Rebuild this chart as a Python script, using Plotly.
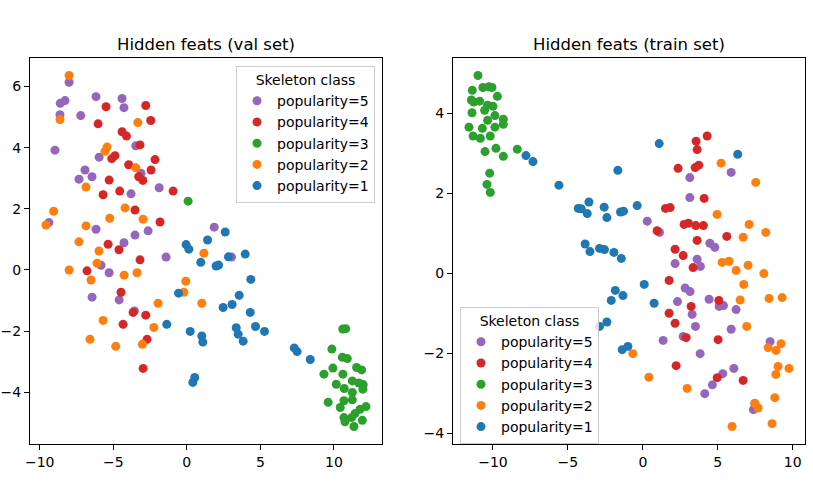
import plotly.graph_objects as go

# class order as in the legend (first drawn at the bottom)
classes = ["popularity=5", "popularity=4", "popularity=3", "popularity=2", "popularity=1"]
colors = ["#9467bd", "#d62728", "#2ca02c", "#ff7f0e", "#1f77b4"]

# ---- val set ----
val_p5_x = [-8.0, -8.6, -8.28, -6.17, -4.40, -4.27, -8.62, -7.21, -8.96, -3.47, -5.96, -3.11, -6.92, -7.33, -6.44,
            -3.79, -1.88, -9.37, -6.17, -3.52, -2.63, -4.27, -5.83, -1.41, 1.86, -5.28, -6.44, -4.60, -3.56, 3.04]
val_p5_y = [6.14, 5.45, 5.54, 5.67, 5.61, 5.31, 5.08, 5.05, 3.92, 4.06, 3.69, 3.16, 3.27, 2.97, 3.05,
            2.49, 2.69, 1.55, 1.33, 1.14, 1.28, 0.89, 0.15, 0.42, 1.40, -0.09, -0.89, -0.98, -1.34, 0.42]

val_p4_x = [-5.49, -2.79, -6.03, -2.45, -4.40, -4.10, -3.18, -4.88, -5.10, -2.16, -3.95, -2.43, -3.27, -2.99, -5.28,
            -5.69, -4.56, -0.93, -3.52, -1.82, -5.35, -4.61, -3.18, -6.78, -4.47, -3.65, -2.79, -4.33, -2.70, -2.97]
val_p4_y = [5.34, 5.38, 4.78, 4.89, 4.52, 4.38, 4.09, 3.74, 3.64, 3.61, 3.44, 3.27, 3.05, 2.93, 2.94,
            2.46, 2.58, 2.58, 1.96, 1.57, 0.84, 0.66, 0.33, -0.03, -0.73, -1.39, -1.48, -1.78, -2.27, -3.22]

val_p3_x = [0.09, 10.6, 10.8, 9.86, 10.57, 10.91, 11.54, 11.88, 9.32, 9.93, 10.61, 11.25, 11.70, 11.99, 11.97,
            10.16, 10.70, 11.25, 11.25, 10.68, 9.61, 10.43, 11.77, 12.18, 11.43, 11.20, 10.68, 10.75, 11.36, 11.93]
val_p3_y = [2.25, -1.93, -1.92, -2.59, -2.86, -2.90, -3.19, -3.27, -3.41, -3.21, -3.41, -3.63, -3.70, -3.75, -3.90,
            -3.74, -3.88, -4.01, -4.25, -4.28, -4.33, -4.50, -4.56, -4.47, -4.70, -4.83, -4.83, -4.97, -5.12, -4.92]

val_p2_x = [-8.0, -8.62, -3.33, -5.42, -5.56, -3.47, -6.85, -9.05, -9.57, -4.20, -5.24, -2.97, -6.85, -7.33, -5.97,
            -6.10, 1.16, -8.0, -3.38, -6.51, -4.26, -1.95, -5.69, -2.24, -6.58, -4.83, -3.02, -0.07, -0.20, 1.02]
val_p2_y = [6.36, 4.92, 4.82, 4.02, 3.88, 3.34, 2.71, 1.92, 1.47, 2.03, 1.69, 1.66, 1.44, 0.92, 0.62,
            0.22, 0.55, 0.0, -0.09, -0.33, -0.17, -1.09, -1.65, -1.88, -2.27, -2.50, -2.43, -0.37, -0.73, -1.09]

val_p1_x = [2.61, 1.41, -0.05, 0.14, 0.95, 1.99, 2.16, 2.83, 3.97, 4.35, -0.56, 0.23, 1.02, 1.09, 0.54,
            0.41, 2.47, -1.36, 3.56, 3.08, 4.31, 4.67, 5.28, 3.36, 3.49, 3.83, 7.30, 7.50, 8.39]
val_p1_y = [1.24, 0.98, 0.83, 0.68, 0.25, 0.13, 0.16, 0.43, 0.52, -0.31, -0.76, -2.01, -2.16, -2.36, -3.52,
            -3.68, -1.23, -1.78, -0.83, -1.13, -1.39, -1.85, -2.01, -1.89, -2.10, -2.33, -2.55, -2.67, -2.93]

# ---- train set ----
tr_p5_x = [3.13, 5.89, 3.13, 0.29, 1.11, 4.47, 4.8, 3.62, 2.15, 3.84, 2.82, 3.15, 2.31, 3.29, 4.42,
           5.09, 5.38, 6.22, 3.51, 5.89, 2.69, 1.35, 3.82, 5.33, 6.07, 4.64, 4.13, 8.49, 7.47, 7.38]
tr_p5_y = [2.39, 2.52, 1.89, 1.30, 1.02, 0.75, 0.65, 0.35, 0.24, 0.17, -0.37, -0.46, -0.71, -1.03, -0.65,
           -0.83, -0.81, -0.91, -1.33, -1.40, -1.58, -1.68, -2.01, -2.51, -2.38, -2.79, -3.01, -1.71, -3.26, -3.41]

tr_p4_x = [4.29, 3.55, 3.62, 2.35, 3.49, 3.73, 4.09, 1.51, 1.82, 0.95, 2.75, 3.04, 3.53, 4.04, 5.6,
           3.62, 2.15, 2.69, 3.35, 1.75, 3.22, 1.75, 2.15, 5.07, 2.89, 5.02, 2.22, 4.96, 6.69]
tr_p4_y = [3.43, 3.30, 3.09, 2.62, 2.64, 2.70, 1.87, 1.62, 1.64, 1.06, 1.22, 1.25, 1.19, 1.19, 0.92,
           0.82, 0.60, 0.44, 0.14, -0.18, -0.83, -1.0, -1.25, -0.68, -1.61, -1.66, -2.31, -2.61, -2.68]

tr_p3_x = [-11.0, -11.38, -10.67, -10.27, -10.07, -9.71, -11.44, -11.29, -10.89, -11.40, -10.56, -10.36, -10.0, -9.87, -10.36,
           -9.31, -9.31, -9.87, -10.71, -11.6, -11.33, -10.84, -10.18, -10.53, -9.8, -9.31, -8.38, -10.22, -10.4, -10.18]
tr_p3_y = [4.94, 4.57, 4.64, 4.66, 4.64, 4.42, 4.33, 4.28, 4.30, 4.01, 4.07, 4.20, 4.17, 3.94, 3.82,
           3.85, 3.72, 3.65, 3.62, 3.65, 3.43, 3.37, 3.43, 3.04, 3.12, 2.92, 3.10, 2.50, 2.22, 2.02]

tr_p2_x = [5.22, 7.53, 4.95, 7.09, 8.2, 6.69, 5.29, 5.75, 7.02, 6.22, 8.07, 6.73, 6.49, 8.42, 9.29,
           6.93, -0.67, 0.4, 2.95, 9.22, 8.36, 8.89, 9.02, 9.75, 8.87, 8.8, 7.47, 7.69, 5.95, 8.62]
tr_p2_y = [2.75, 2.27, 1.47, 1.22, 1.02, 0.90, 0.27, 0.30, 0.20, 0.07, -0.01, -0.28, -0.67, -0.63, -0.61,
           -1.33, -2.01, -2.6, -2.88, -1.76, -1.86, -1.93, -2.33, -2.38, -2.53, -3.11, -3.25, -3.37, -3.83, -3.76]

tr_p1_x = [-7.8, -7.33, -5.6, -1.67, -3.6, -4.31, -4.11, -3.71, -2.58, -2.4, -1.49, -1.29, -3.85, -3.53, -2.89,
           -2.56, -1.93, -1.44, -1.84, -1.33, -2.11, -2.4, -2.89, -1.38, -1.0, 1.09, 6.33, -0.38, 0.09, 0.75]
tr_p1_y = [2.94, 2.79, 2.20, 2.57, 1.78, 1.62, 1.61, 1.49, 1.65, 1.39, 1.53, 1.55, 0.73, 0.54, 0.62,
           0.59, 0.52, 0.37, -0.43, -0.56, -0.68, -1.22, -1.33, -1.91, -1.83, 3.24, 2.97, 1.69, -0.28, -0.75]

val_sets = [(val_p5_x, val_p5_y), (val_p4_x, val_p4_y), (val_p3_x, val_p3_y), (val_p2_x, val_p2_y), (val_p1_x, val_p1_y)]
train_sets = [(tr_p5_x, tr_p5_y), (tr_p4_x, tr_p4_y), (tr_p3_x, tr_p3_y), (tr_p2_x, tr_p2_y), (tr_p1_x, tr_p1_y)]

FONT = "DejaVu Sans"


def padded_range(sets, idx):
    vals = [v for s in sets for v in s[idx]]
    lo, hi = min(vals), max(vals)
    pad = (hi - lo) * 0.05
    return [lo - pad, hi + pad]


fig = go.Figure()

for (x, y), name, col in zip(val_sets, classes, colors):
    fig.add_trace(go.Scatter(x=x, y=y, mode="markers", name=name, xaxis="x", yaxis="y", legend="legend",
                             marker=dict(size=9, color=col, line_width=0)))

for (x, y), name, col in zip(train_sets, classes, colors):
    fig.add_trace(go.Scatter(x=x, y=y, mode="markers", name=name, xaxis="x2", yaxis="y2", legend="legend2",
                             marker=dict(size=9, color=col, line_width=0)))

# body margin is removed in the page (see write_html), so figure px == page px
W, H = 813, 499


def px(x):
    return x / W


def py(y):
    return (H - y) / H


# automargin off: tick labels must not push the plot areas around
axis_style = dict(showline=True, linecolor="black", linewidth=1, mirror=True, ticks="outside",
                  ticklen=5, tickwidth=1, tickcolor="black", showgrid=False, zeroline=False,
                  automargin=False, tickfont=dict(family=FONT, size=14, color="black"))

y_dom = [py(444), py(58)]

legend_style = dict(bgcolor="rgba(255,255,255,0.8)", bordercolor="#cccccc", borderwidth=1,
                    font=dict(family=FONT, size=14, color="black"),
                    title=dict(text="Skeleton class", side="top center", font=dict(family=FONT, size=14, color="black")))

fig.update_layout(
    width=W, height=H,
    margin=dict(l=0, r=0, t=0, b=0, autoexpand=False),
    paper_bgcolor="white", plot_bgcolor="white",
    font=dict(family=FONT, color="black"),
    xaxis=dict(domain=[px(30), px(382)], range=padded_range(val_sets, 0), tickvals=[-10, -5, 0, 5, 10],
               anchor="y", **axis_style),
    yaxis=dict(domain=y_dom, range=padded_range(val_sets, 1), tickvals=[-4, -2, 0, 2, 4, 6],
               anchor="x", **axis_style),
    xaxis2=dict(domain=[px(453), px(805)], range=padded_range(train_sets, 0), tickvals=[-10, -5, 0, 5, 10],
                anchor="y2", **axis_style),
    yaxis2=dict(domain=y_dom, range=padded_range(train_sets, 1), tickvals=[-4, -2, 0, 2, 4],
                anchor="x2", **axis_style),
    legend=dict(x=px(375), xanchor="right", y=py(66), yanchor="top", **legend_style),
    legend2=dict(x=px(460), xanchor="left", y=py(307), yanchor="top", **legend_style),
    annotations=[
        dict(text="Hidden feats (val set)", x=px(206), y=py(45), xref="paper", yref="paper",
             showarrow=False, xanchor="center", yanchor="middle", font=dict(family=FONT, size=16.5, color="black")),
        dict(text="Hidden feats (train set)", x=px(629), y=py(45), xref="paper", yref="paper",
             showarrow=False, xanchor="center", yanchor="middle", font=dict(family=FONT, size=16.5, color="black")),
    ],
)

fig.write_html("out.html", config={"displayModeBar": False},
               post_script="document.body.style.margin='0';document.body.style.overflow='hidden';")
